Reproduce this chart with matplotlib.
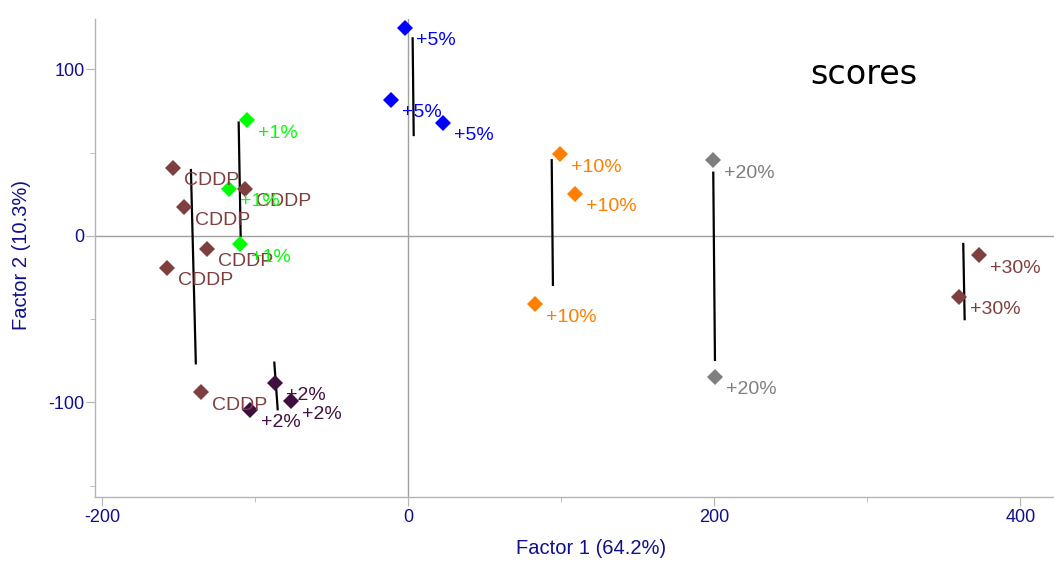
import numpy as np
import matplotlib
matplotlib.use('Agg')
import matplotlib.pyplot as plt
from matplotlib.ticker import FixedLocator

''' Data (read from the reference) '''
cddp_x = [-153.9, -146.5, -107.1, -131.9, -157.8, -135.6]
cddp_y = [41.0, 17.2, 28.4, -7.6, -19.0, -93.9]
p1_x = [-105.5, -117.3, -110.1]
p1_y = [69.5, 28.2, -5.0]
p2_x = [-87.1, -103.6, -77.0]
p2_y = [-88.1, -104.5, -99.3]
p5_x = [-2.3, -11.4, 22.5]
p5_y = [124.9, 81.7, 67.9]
p10_x = [99.2, 108.8, 82.5]
p10_y = [49.1, 25.4, -41.0]
p20_x = [199.2, 200.1]
p20_y = [45.5, -84.7]
p30_x = [372.7, 359.6]
p30_y = [-11.6, -36.4]

groups = [
    ('CDDP', cddp_x, cddp_y, '#7f3f3f'),
    ('+1%', p1_x, p1_y, '#00ff00'),
    ('+2%', p2_x, p2_y, '#3f0f3f'),
    ('+5%', p5_x, p5_y, '#0000ff'),
    ('+10%', p10_x, p10_y, '#ff7f00'),
    ('+20%', p20_x, p20_y, '#7f7f7f'),
    ('+30%', p30_x, p30_y, '#7f3f3f'),
]

# black bars: top and bottom ends per group
bar_x_top = [-142.2, -111.0, -87.7, 2.7, 93.6, 199.2, 362.6]
bar_y_top = [39.6, 68.1, -76.1, 118.7, 45.5, 38.0, -4.8]
bar_x_bot = [-139.0, -109.7, -85.5, 3.4, 94.4, 200.3, 363.5]
bar_y_bot = [-76.5, 0.0, -104.1, 60.6, -29.4, -74.5, -50.0]

x_major = [-200, 0, 200, 400]
x_minor = [-100, 100, 300]
y_major = [-100, 0, 100]
y_minor = [-150, -50, 50]

navy = '#10108a'
grey = '#b4b4b4'

plt.rcParams['font.family'] = ['Liberation Sans', 'DejaVu Sans']
plt.rcParams['axes.unicode_minus'] = False

fig = plt.figure(figsize=(10.54, 5.69), dpi=100)
ax = fig.add_axes([95 / 1054, 1 - 497 / 569, 1 - 95 / 1054, (497 - 19) / 569])

ax.axhline(0, color='#a0a0a0', lw=1, zorder=1)
ax.axvline(0, color='#a0a0a0', lw=1, zorder=1)

for xt, yt, xb, yb in zip(bar_x_top, bar_y_top, bar_x_bot, bar_y_bot):
    ax.plot([xt, xb], [yt, yb], color='black', lw=1.6, zorder=2)

for label, xs, ys, col in groups:
    ax.plot(xs, ys, 'D', color=col, markersize=8, markeredgewidth=0, zorder=3)
    for x, y in zip(xs, ys):
        ax.annotate(label, (x, y), xytext=(11, -13), textcoords='offset pixels',
                    color=col, fontsize=14, ha='left', va='center', zorder=4,
                    annotation_clip=False)

ax.set_xlim(-204.9, 421.9)
ax.set_ylim(-156.8, 130.3)
ax.xaxis.set_major_locator(FixedLocator(x_major))
ax.xaxis.set_minor_locator(FixedLocator(x_minor))
ax.yaxis.set_major_locator(FixedLocator(y_major))
ax.yaxis.set_minor_locator(FixedLocator(y_minor))

for side in ['top', 'right']:
    ax.spines[side].set_visible(False)
for side in ['left', 'bottom']:
    ax.spines[side].set_color(grey)
    ax.spines[side].set_linewidth(1)

ax.tick_params(axis='both', which='major', length=6.5, color=grey,
               labelcolor=navy, labelsize=13, pad=1)
ax.tick_params(axis='both', which='minor', length=3.6, color=grey)
ax.tick_params(axis='x', which='major', pad=2.5)

fig.text(590.8 / 1054, 1 - 549 / 569, 'Factor 1 (64.2%)', color=navy,
         fontsize=14.5, ha='center', va='center')
fig.text(22 / 1054, 1 - 255 / 569, 'Factor 2 (10.3%)', color=navy,
         fontsize=14.5, ha='center', va='center', rotation=90)

fig.text(864 / 1054, 1 - 75 / 569, 'scores', fontsize=24, color='black',
         family=['DejaVu Sans Condensed', 'DejaVu Sans'], ha='center', va='center')

plt.savefig('out.png', dpi=100)
plt.close(fig)
